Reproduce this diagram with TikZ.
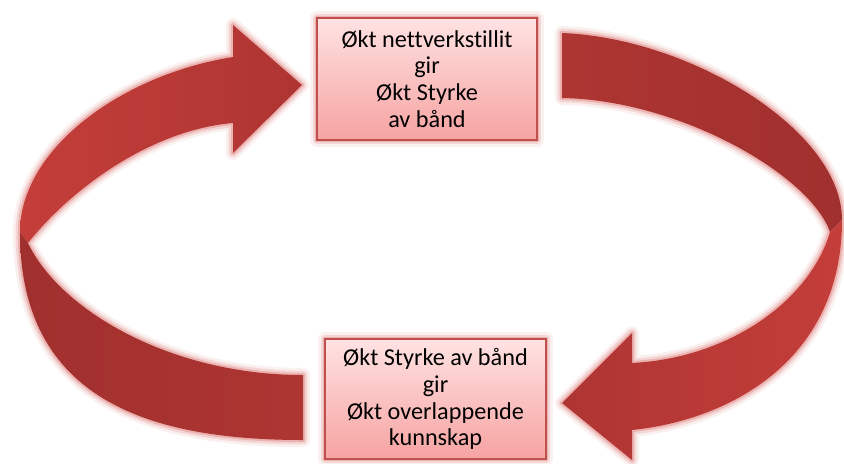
\documentclass[tikz,border=0pt]{standalone}
\usepackage{fontspec}
\setmainfont[Ligatures={NoCommon}]{Carlito}
\definecolor{ribbon}{HTML}{AE3532}
\definecolor{ribbonlight}{HTML}{C43E3A}
\definecolor{ribbondark}{HTML}{A0302E}
\definecolor{glowc}{HTML}{E59A98}
\definecolor{boxtop}{HTML}{FFE2E2}
\definecolor{boxbot}{HTML}{F6A3A2}
\definecolor{boxline}{HTML}{C0504D}
\tikzset{
  glow/.style={
    preaction={draw=glowc, line width=8pt, opacity=0.15, line join=round},
    preaction={draw=glowc, line width=5pt, opacity=0.3, line join=round},
    preaction={draw=glowc, line width=2.4pt, opacity=0.6, line join=round}},
  stagebox/.style={draw=boxline, line width=0.7pt, top color=boxtop,
    bottom color=boxbot, glow, inner sep=0pt},
  stagetext/.style={align=center, inner sep=0pt,
    font=\fontsize{13.8}{15.3}\selectfont},
  band/.style={draw=none}
}
\begin{document}
\begin{tikzpicture}[x=0.02cm, y=-0.02cm]
\useasboundingbox (0,0) rectangle (844,463);

% left ribbon arrow: glow outline, then the two bands
\path[glow] (303,440) .. controls (150,440) and (20,400) .. (20,232)
  .. controls (20,150) and (120,75) .. (233,57)
  -- (233,25) -- (302,85) -- (233,153) -- (233,123)
  .. controls (150,130) and (70,190) .. (28,243)
  .. controls (60,310) and (170,375) .. (303,375) -- cycle;
\path[band, left color=ribbonlight, right color=ribbon]
  (20,232) .. controls (20,150) and (120,75) .. (233,57)
  -- (233,25) -- (302,85) -- (233,153) -- (233,123)
  .. controls (150,130) and (70,190) .. (28,243) -- cycle;
\path[band, left color=ribbondark, right color=ribbon]
  (20,232) .. controls (20,400) and (150,440) .. (303,440)
  -- (303,375) .. controls (170,375) and (60,310) .. (28,243) -- cycle;

% right ribbon arrow
\path[glow] (562,33) .. controls (690,38) and (842,130) .. (842,220)
  .. controls (842,360) and (730,420) .. (632,430)
  -- (632,460) -- (562,403) -- (632,333) -- (632,363)
  .. controls (730,358) and (810,300) .. (830,232)
  .. controls (810,175) and (680,100) .. (562,98) -- cycle;
\path[band, left color=ribbon, right color=ribbondark]
  (562,33) .. controls (690,38) and (842,130) .. (842,220)
  -- (830,232) .. controls (810,175) and (680,100) .. (562,98) -- cycle;
\path[band, left color=ribbon, right color=ribbonlight]
  (842,220) .. controls (842,360) and (730,420) .. (632,430)
  -- (632,460) -- (562,403) -- (632,333) -- (632,363)
  .. controls (730,358) and (810,300) .. (830,232) -- cycle;

% the two stages
\node[stagebox, minimum width=4.4cm, minimum height=2.44cm] (top) at (427,79) {};
\node[stagetext] (toptext) at (top.center)
  {Økt nettverkstillit\\gir\\Økt Styrke\\av bånd};
\node[stagebox, minimum width=4.42cm, minimum height=2.4cm] (bottom) at (435.5,399) {};
\node[stagetext] (bottomtext) at (bottom.center)
  {Økt Styrke av bånd\\gir\\Økt overlappende\\kunnskap};
\end{tikzpicture}
\end{document}
